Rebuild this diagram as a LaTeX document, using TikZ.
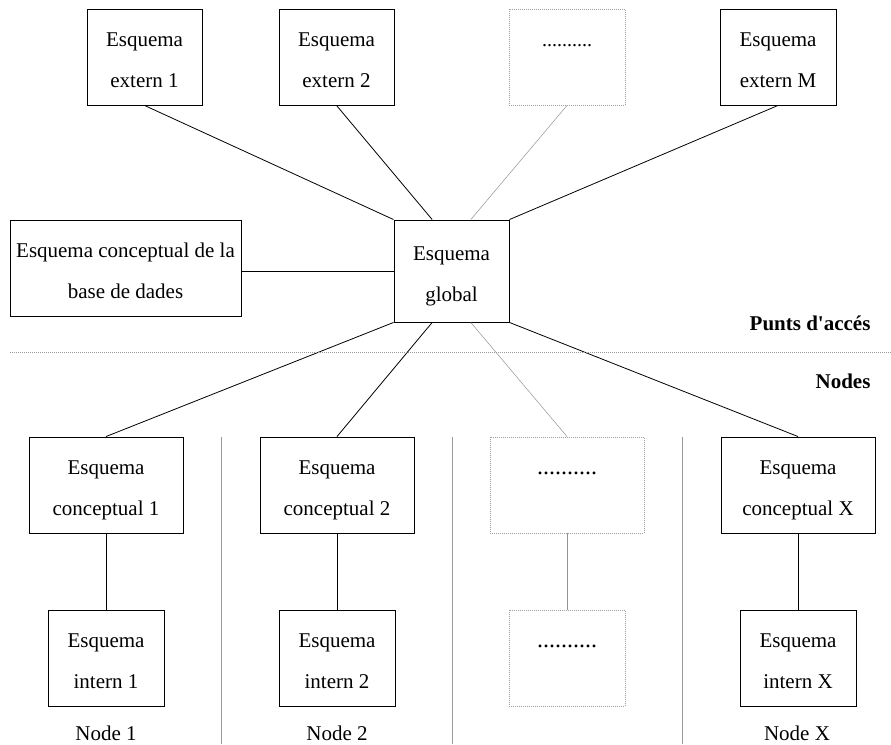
\documentclass[tikz,border=0pt]{standalone}
\usepackage{fontspec}
\setmainfont{Liberation Serif}[Ligatures=TeXOff]
\usetikzlibrary{calc}
\begin{document}
\begin{tikzpicture}[x=1pt,y=-1pt,
  txt/.style={font=\fontsize{21}{41}\selectfont},
  schema/.style={txt,draw=black,line width=0.9pt,inner sep=0pt,align=center,
    minimum width=#1,minimum height=96pt,text height=60pt,text depth=0pt},
  ghost/.style={schema=#1,draw=gray!75,dash pattern=on 1pt off 1pt},
  link/.style={line width=0.8pt,black},
  ghostlink/.style={line width=0.5pt,gray!85},
  divider/.style={line width=0.6pt,gray!80},
  zone/.style={font=\fontsize{21}{24}\selectfont\bfseries,anchor=base east}
]
\useasboundingbox (0,0) rectangle (891,744);

% external schemas
\node[schema=115pt] (ext1) at (144.5,57) {Esquema\\extern 1};
\node[schema=115pt] (ext2) at (336.5,57) {Esquema\\extern 2};
\node[ghost=116pt]  (extd) at (567,57) {\fontsize{20}{41}\selectfont ..........\\\mbox{}};
\node[schema=116pt] (extm) at (778,57) {Esquema\\extern M};

% conceptual schema of the database and global schema
\node[schema=231pt] (db) at (125.5,268) {Esquema conceptual de la\\base de dades};
\node[schema=115pt,minimum height=102pt] (glob) at (451.5,271) {Esquema\\global};

% per-node conceptual schemas
\node[schema=154pt] (c1) at (106,485) {Esquema\\conceptual 1};
\node[schema=154pt] (c2) at (337,485) {Esquema\\conceptual 2};
\node[ghost=154pt]  (cd) at (567,485) {\fontsize{24}{41}\selectfont ..........\\\mbox{}};
\node[schema=154pt] (cx) at (798,485) {Esquema\\conceptual X};

% per-node internal schemas
\node[schema=116pt] (i1) at (106,658) {Esquema\\intern 1};
\node[schema=116pt] (i2) at (337,658) {Esquema\\intern 2};
\node[ghost=116pt]  (id) at (567,658) {\fontsize{24}{41}\selectfont ..........\\\mbox{}};
\node[schema=116pt] (ix) at (798,658) {Esquema\\intern X};

% attachment points on the global schema
\coordinate (gt1) at ($(glob.north west)!1/3!(glob.north east)$);
\coordinate (gt2) at ($(glob.north west)!2/3!(glob.north east)$);
\coordinate (gb1) at ($(glob.south west)!1/3!(glob.south east)$);
\coordinate (gb2) at ($(glob.south west)!2/3!(glob.south east)$);

% upper connectors
\draw[link] (ext1.south) -- (glob.north west);
\draw[link] (ext2.south) -- (gt1);
\draw[ghostlink] (extd.south) -- (gt2);
\draw[link] (extm.south) -- (glob.north east);
\draw[link] (glob.west -| db.east) -- (glob.west);

% lower connectors
\draw[link] (glob.south west) -- (c1.north);
\draw[link] (gb1) -- (c2.north);
\draw[ghostlink] (gb2) -- (cd.north);
\draw[link] (glob.south east) -- (cx.north);

\draw[link] (c1.south) -- (i1.north);
\draw[link] (c2.south) -- (i2.north);
\draw[ghostlink] (cd.south) -- (id.north);
\draw[link] (cx.south) -- (ix.north);

% access points / nodes boundary
\coordinate (bl) at (10,352);
\coordinate (br) at (891,352);
\draw[gray!80,line width=0.8pt,dash pattern=on 1pt off 1pt] (bl) -- (br);
\node[zone] (punts) at (874,330) {Punts d'accés};
\node[zone] (nodes) at (874,388) {Nodes};

% column dividers
\foreach \x/\n in {221/a,452/b,682/c}{
  \coordinate (top\n) at (\x,437);
  \coordinate (bot\n) at (\x,744);
  \draw[divider] (top\n) -- (bot\n);
}

% node captions
\node[txt,anchor=base] (n1) at (106,740) {Node 1};
\node[txt,anchor=base] (n2) at (337,740) {Node 2};
\node[txt,anchor=base] (nx) at (797,740) {Node X};
\end{tikzpicture}
\end{document}
